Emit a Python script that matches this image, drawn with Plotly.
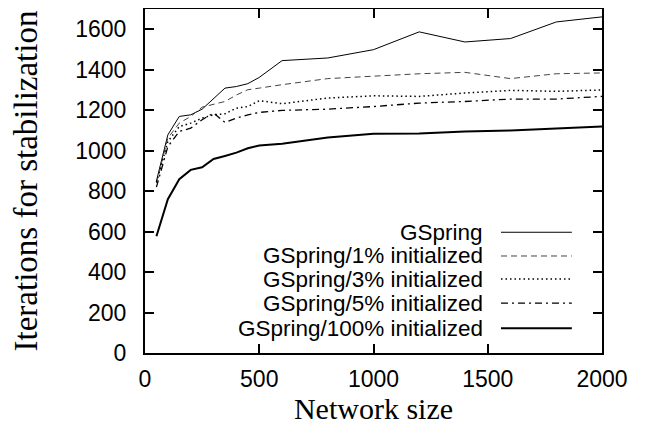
import plotly.graph_objects as go

network_size = [50, 100, 150, 200, 250, 300, 350, 400, 450, 500, 600, 800, 1000, 1200, 1400, 1600, 1800, 2000]

gspring      = [850, 1078, 1169, 1177, 1205, 1255, 1309, 1317, 1331, 1362, 1445, 1458, 1499, 1587, 1537, 1554, 1636, 1661]
gspring_1    = [840, 1062, 1136, 1169, 1215, 1230, 1243, 1275, 1301, 1309, 1326, 1356, 1367, 1380, 1387, 1356, 1380, 1384]
gspring_3    = [845, 1045, 1119, 1136, 1161, 1177, 1182, 1210, 1218, 1247, 1232, 1260, 1271, 1268, 1285, 1298, 1293, 1300]
gspring_5    = [820, 1020, 1095, 1111, 1153, 1186, 1139, 1161, 1177, 1189, 1199, 1205, 1218, 1235, 1243, 1255, 1255, 1268]
gspring_100  = [577, 760, 859, 905, 918, 959, 974, 990, 1012, 1025, 1034, 1065, 1083, 1085, 1095, 1100, 1110, 1119]

series_names = ["GSpring", "GSpring/1% initialized", "GSpring/3% initialized",
                "GSpring/5% initialized", "GSpring/100% initialized"]
series_values = [gspring, gspring_1, gspring_3, gspring_5, gspring_100]
styles = [
    dict(color="black", width=1, dash="solid"),
    dict(color="#444", width=1, dash="6px,4px"),
    dict(color="black", width=1.5, dash="1.5px,3px"),
    dict(color="black", width=1.3, dash="7px,4px,2px,4px"),
    dict(color="black", width=2, dash="solid"),
]

x_ticks = [0, 500, 1000, 1500, 2000]
y_ticks = [0, 200, 400, 600, 800, 1000, 1200, 1400, 1600]

fig = go.Figure()
for name, vals, st in zip(series_names, series_values, styles):
    fig.add_trace(go.Scatter(x=network_size, y=vals, mode="lines", name=name,
                             line=st, showlegend=False))

# custom gnuplot-style legend: text right-aligned, sample line on the right
leg_y = [0.351, 0.282, 0.215, 0.145, 0.072]
for name, st, yy in zip(series_names, styles, leg_y):
    fig.add_annotation(xref="paper", yref="paper", x=0.744, y=yy, text=name,
                       showarrow=False, xanchor="right", yanchor="middle",
                       font=dict(family="Liberation Sans, Arial", size=22.5, color="black"))
    fig.add_shape(type="line", xref="paper", yref="paper", x0=0.779, x1=0.934,
                  y0=yy, y1=yy, line=st)

axis_common = dict(showline=True, linecolor="black", linewidth=2, mirror="allticks",
                   ticks="inside", ticklen=9, tickwidth=2, tickcolor="black",
                   showgrid=False, zeroline=False, automargin=False,
                   tickfont=dict(family="Liberation Sans, Arial", size=23, color="black"))

fig.update_xaxes(range=[0, 2000], tickvals=x_ticks, ticklabelstandoff=4, **axis_common,
                 title=dict(text="Network size", standoff=0,
                            font=dict(family="Liberation Serif, Times New Roman", size=30, color="black")))
fig.update_yaxes(range=[0, 1700], tickvals=y_ticks, ticklabelstandoff=12, **axis_common,
                 title=dict(text="Iterations for stabilization", standoff=38,
                            font=dict(family="Liberation Serif, Times New Roman", size=33, color="black")))

# page body has an 8px margin, so the figure is shifted; compensate in margins
fig.update_layout(width=646, height=427, margin=dict(l=137, r=52, t=1, b=82),
                  plot_bgcolor="white", paper_bgcolor="white")

fig.write_html("out.html")
